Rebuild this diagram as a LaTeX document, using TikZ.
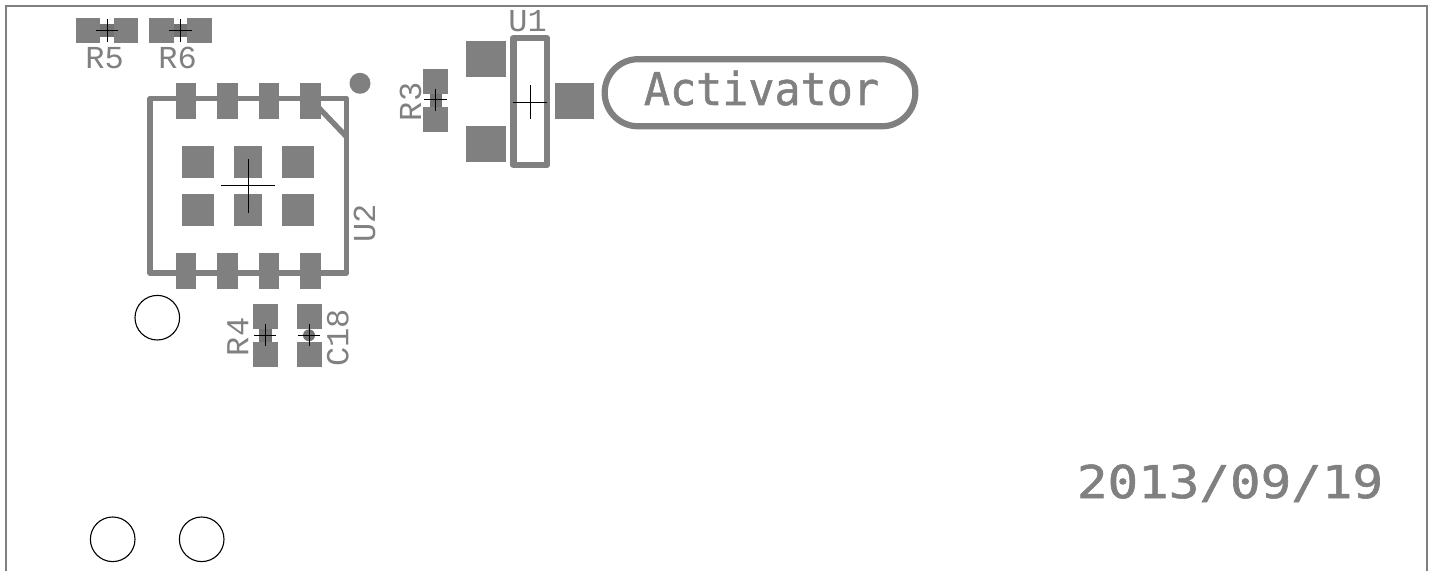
\documentclass[tikz,border=0pt]{standalone}
\usepackage{fontspec}
\newfontfamily\labelfont{Liberation Mono}
\newfontfamily\markfont[FakeBold=1.2]{DejaVu Sans Mono}
\usetikzlibrary{positioning}
\definecolor{pcbgray}{HTML}{808080}
\tikzset{
	pad/.style={fill=pcbgray, inner sep=0pt, outer sep=0pt},
	respad/.style={pad, minimum width=12.4pt, minimum height=12.6pt},
	sidepad/.style={pad, minimum width=10.3pt, minimum height=17.8pt},
	thermal/.style={pad, minimum width=16pt, minimum height=16pt},
	thermalmid/.style={pad, minimum width=13.9pt, minimum height=16pt},
	bigpad/.style={pad, minimum width=19.9pt, minimum height=17.9pt},
	silk/.style={draw=pcbgray, line join=round},
	hole/.style={draw=black, line width=0.55pt, circle, inner sep=0pt, minimum size=22.3pt},
	crossline/.style={draw=black, line width=0.5pt},
	reftext/.style={text=pcbgray, inner sep=0pt, font=\labelfont\fontsize{16}{16}\selectfont},
	marktext/.style={text=pcbgray, inner sep=0pt, font=\markfont\fontsize{22.6}{22.6}\selectfont}
}

\begin{document}
\begin{tikzpicture}[x=0.5pt, y=-0.5pt]
	\useasboundingbox (0,0) rectangle (1435,571);

	% board outline, open at the bottom
	\coordinate (bl) at (6,571);
	\coordinate (tl) at (6,6.5);
	\coordinate (tr) at (1427,6.5);
	\coordinate (br) at (1427,571);
	\draw[draw=pcbgray, line width=1pt] (bl) -- (tl) -- (tr) -- (br);

	% R5, R6
	\fill[pcbgray!90!black] (100,24) rectangle (114,37);
	\fill[pcbgray!90!black] (174,24) rectangle (187,37);
	\node[respad] (r5a) at (88,30.5) {};
	\node[respad] (r5b) at (126,30.5) {};
	\node[respad] (r6a) at (161.7,30.5) {};
	\node[respad] (r6b) at (199.3,30.5) {};
	\node[reftext, anchor=base west] (r5) at (85,69) {R5};
	\node[reftext, anchor=base west] (r6) at (158,69) {R6};

	% U2
	\draw[silk, line width=2.7pt] (150,98.5) rectangle (346.7,273);
	\draw[silk, line width=2.7pt] (319,108) -- (346.7,137);
	\foreach \i/\x in {1/186,2/227.5,3/269,4/310.5} {
		\node[sidepad] (top\i) at (\x,101) {};
		\node[sidepad] (bot\i) at (\x,271) {};
	}
	\foreach \i/\x/\kind in {1/198/thermal,2/248.2/thermalmid,3/298.2/thermal} {
		\node[\kind] (upper\i) at (\x,161.7) {};
		\node[\kind] (lower\i) at (\x,209.8) {};
	}
	\node[circle, fill=pcbgray, inner sep=0pt, minimum size=10.5pt] (dot) at (360,83.3) {};
	\node[reftext, rotate=90, anchor=base west] (u2) at (375,243) {U2};

	% R4, C18
	\fill[pcbgray!90!black] (259.3,329) rectangle (271.7,342);
	\fill[pcbgray!90!black] (309,335.3) circle (3pt);
	\node[pad, minimum width=12.6pt, minimum height=12.5pt] (r4a) at (265.3,316.8) {};
	\node[pad, minimum width=12.6pt, minimum height=12.5pt] (r4b) at (265.3,354.2) {};
	\node[pad, minimum width=12.5pt, minimum height=12.5pt] (c18a) at (309.2,316.8) {};
	\node[pad, minimum width=12.5pt, minimum height=12.5pt] (c18b) at (309.2,354.2) {};
	\node[reftext, rotate=90, anchor=base west] (r4) at (248.3,356.5) {R4};
	\node[reftext, rotate=90, anchor=base west] (c18) at (348.3,367) {C18};

	% R3
	\fill[pcbgray!90!black] (429.7,94) rectangle (442.3,106.7);
	\node[pad, minimum width=12.6pt, minimum height=12.5pt] (r3a) at (435.7,81.5) {};
	\node[pad, minimum width=12.6pt, minimum height=12.7pt] (r3b) at (435.7,119.3) {};
	\node[reftext, rotate=90, anchor=base west] (r3) at (421,121.5) {R3};

	% U1
	\draw[silk, line width=3.2pt] (513.3,38.2) rectangle (546.9,165);
	\node[bigpad] (u1a) at (486,59.2) {};
	\node[bigpad] (u1b) at (486,143.8) {};
	\node[bigpad] (u1c) at (574.5,101.4) {};
	\node[reftext, anchor=base west] (u1) at (508,31.7) {U1};

	% crosses over the parts
	\foreach \x/\y/\w/\h in {107/30.7/11.4/11.5, 180.3/30.7/11.5/11.5, 248/186/26.8/26.7, 265/335.3/11/11.2, 309/335.3/11.3/11.2, 435.7/100/11.4/11.4, 530/102.3/17/17.2} {
		\draw[crossline] (\x-\w,\y) -- (\x+\w,\y);
		\draw[crossline] (\x,\y-\h) -- (\x,\y+\h);
	}

	% mounting holes
	\node[hole] (hole1) at (157.3,317.7) {};
	\node[hole] (hole2) at (112.7,539.3) {};
	\node[hole] (hole3) at (201.7,539.3) {};

	% board marking
	\draw[silk, line width=3.1pt, rounded corners=16.7pt] (604.7,59.2) rectangle (915.3,126.3);
	\node[marktext, anchor=base west, xscale=0.96, transform shape] (activator) at (643.5,105) {Activator};
	\node[marktext, anchor=base west, xscale=1.125, transform shape] (date) at (1076.5,498) {2013/09/19};
\end{tikzpicture}
\end{document}
